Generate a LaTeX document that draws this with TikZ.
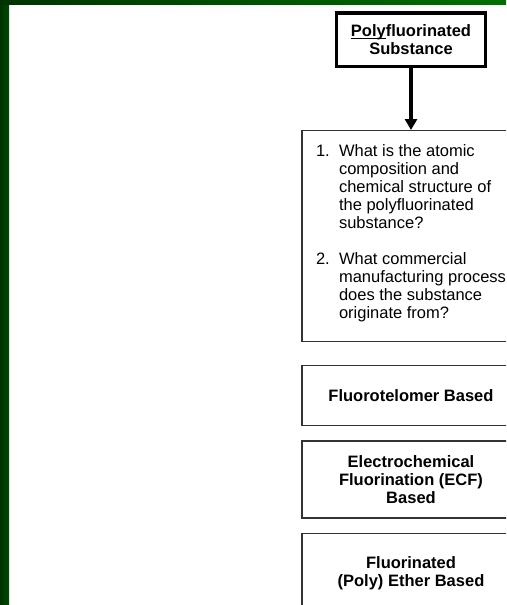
\documentclass[tikz,border=0pt]{standalone}
\usepackage{fontspec}
\setmainfont{Liberation Sans}
\usepackage{calc}
\usetikzlibrary{positioning,arrows.meta}
\definecolor{framegreen}{HTML}{003300}
\definecolor{lightgreen}{HTML}{007000}
\definecolor{bargreen}{HTML}{004A00}
\newcommand\ulword[1]{\rlap{\rule[-3pt]{\widthof{#1}}{1.3pt}}#1}
\begin{document}
\begin{tikzpicture}
	[x=1pt, y=1pt, >={Triangle[width=12pt,length=11pt]}, node distance=14pt,
	polybox/.style={draw=black, line width=3.5pt, minimum width=149pt, minimum height=53.5pt, align=center, font=\fontsize{16.5}{18}\selectfont\bfseries},
	qbox/.style={draw=black!80, line width=1.3pt, minimum width=218pt, minimum height=210.7pt, inner sep=0pt, font=\fontsize{16.5}{18}\selectfont},
	basebox/.style={draw=black!80, line width=1.3pt, minimum width=218pt, align=center, font=\fontsize{16.5}{18}\selectfont\bfseries}]
	\useasboundingbox (0,0) rectangle (506,-605);
	\clip (0,0) rectangle (506,-605);
	\shade[left color=framegreen, right color=bargreen] (0,0) rectangle (9,-605);
	\shade[left color=framegreen, right color=lightgreen] (0,0) rectangle (506,-4);
	\node[polybox, anchor=north] (poly) at (411,-11) {\ulword{Poly}fluorinated\\Substance};
	\node[qbox, below=62pt of poly] (quest) {\begin{tabular}{@{}p{23pt}@{}l@{}}
		1. & What is the atomic\\
		& composition and\\
		& chemical structure of\\
		& the polyfluorinated\\
		& substance?\\
		& \\
		2. & What commercial\\
		& manufacturing process\\
		& does the substance\\
		& originate from?\\
		\noalign{\vskip4pt}
		\end{tabular}};
	\node[basebox, minimum height=60pt, below=23pt of quest] (telomer) {Fluorotelomer Based};
	\node[basebox, minimum height=77pt, below=of telomer] (ecf) {Electrochemical\\Fluorination (ECF)\\Based};
	\node[basebox, minimum height=80pt, below=of ecf] (ether) {Fluorinated\\(Poly) Ether Based};
	\path[->, line width=3.5pt] (poly) edge (quest);
\end{tikzpicture}
\end{document}
